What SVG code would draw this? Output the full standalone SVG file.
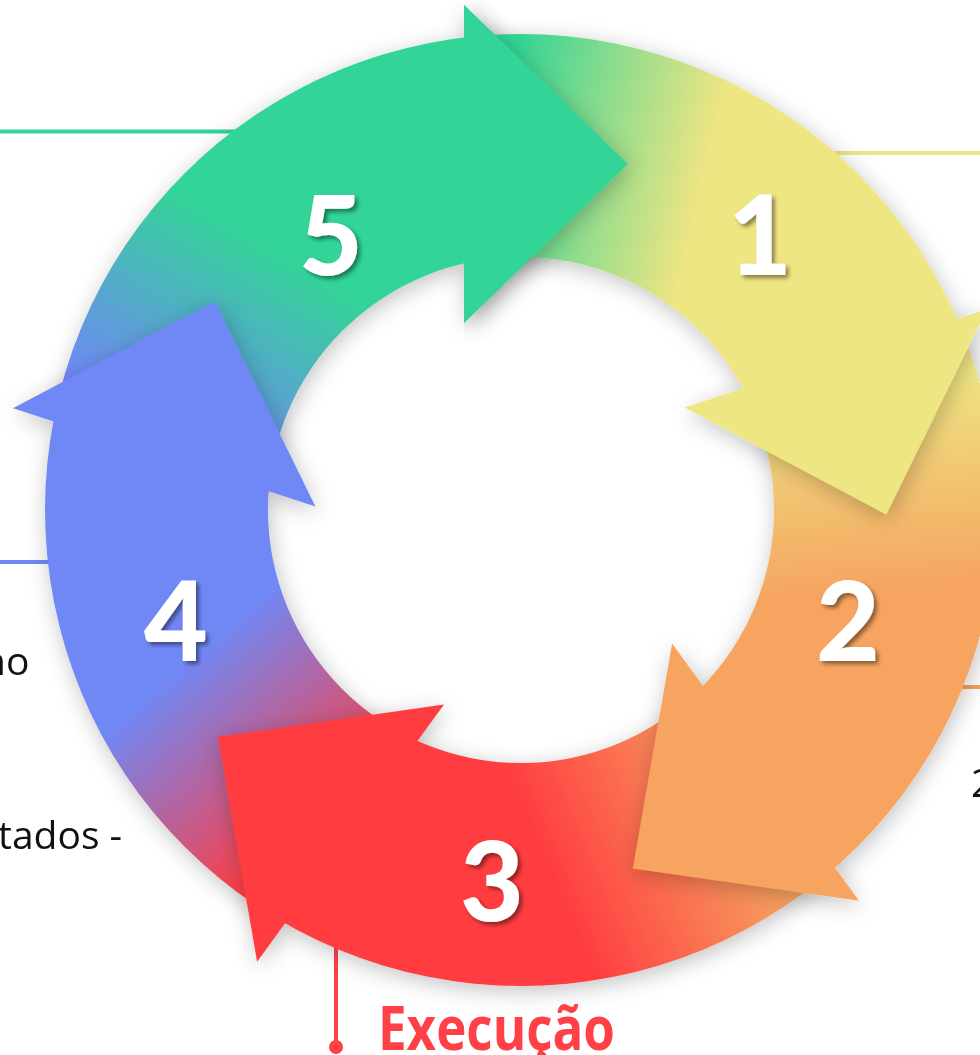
<svg xmlns="http://www.w3.org/2000/svg" width="980" height="1055" viewBox="0 0 980 1055">
<style>
.num{font-family:Lato,"Open Sans","Liberation Sans",sans-serif;font-weight:900;font-size:110px;fill:#fff;text-anchor:middle;filter:url(#tsh)}
.lbl{font-family:"Open Sans","Liberation Sans",sans-serif;font-size:39px;fill:#111}
.ln{stroke-width:4;fill:none}
.sh{filter:url(#sh)}
</style>
<defs>
<filter id="sh" x="-30%" y="-30%" width="160%" height="160%"><feDropShadow dx="2" dy="5" stdDeviation="11" flood-color="#000" flood-opacity="0.24"/></filter>
<filter id="tsh" x="-20%" y="-20%" width="150%" height="150%"><feDropShadow dx="3" dy="3" stdDeviation="2" flood-color="#000" flood-opacity="0.45"/></filter>
<path id="ring" d="M997,510 A476,476 0 1 0 45,510 A476,476 0 1 0 997,510 Z M774,510 A253,253 0 1 0 268,510 A253,253 0 1 0 774,510 Z" fill-rule="evenodd"/>
<clipPath id="c5" clipPathUnits="userSpaceOnUse"><polygon points="496,542 496,-333 -334,-333 -312,279"/></clipPath>
<clipPath id="c1" clipPathUnits="userSpaceOnUse"><polygon points="496,542 496,-333 -334,-333 -312,279" transform="rotate(72 516 517)"/></clipPath>
<clipPath id="c2" clipPathUnits="userSpaceOnUse"><polygon points="496,542 496,-333 -334,-333 -312,279" transform="rotate(144 516 517)"/></clipPath>
<clipPath id="c3" clipPathUnits="userSpaceOnUse"><polygon points="496,542 496,-333 -334,-333 -312,279" transform="rotate(216 516 517)"/></clipPath>
<clipPath id="c4" clipPathUnits="userSpaceOnUse"><polygon points="496,542 496,-333 -334,-333 -312,279" transform="rotate(288 516 517)"/></clipPath>
<clipPath id="hp5" clipPathUnits="userSpaceOnUse"><rect x="464" y="-60" width="320" height="470"/></clipPath>
<linearGradient id="g5" gradientUnits="userSpaceOnUse" x1="162" y1="429" x2="272" y2="246"><stop offset="0" stop-color="#7088F5"/><stop offset="1" stop-color="#33D497"/></linearGradient>
<linearGradient id="g1" gradientUnits="userSpaceOnUse" x1="162" y1="429" x2="272" y2="246" gradientTransform="rotate(72 516 517)"><stop offset="0" stop-color="#33D497"/><stop offset="1" stop-color="#EEE583"/></linearGradient>
<linearGradient id="g2" gradientUnits="userSpaceOnUse" x1="162" y1="429" x2="272" y2="246" gradientTransform="rotate(144 516 517)"><stop offset="0" stop-color="#EEE583"/><stop offset="1" stop-color="#F6A460"/></linearGradient>
<linearGradient id="g3" gradientUnits="userSpaceOnUse" x1="162" y1="429" x2="272" y2="246" gradientTransform="rotate(216 516 517)"><stop offset="0" stop-color="#F6A460"/><stop offset="1" stop-color="#FF3D41"/></linearGradient>
<linearGradient id="g4" gradientUnits="userSpaceOnUse" x1="162" y1="429" x2="272" y2="246" gradientTransform="rotate(288 516 517)"><stop offset="0" stop-color="#FF3D41"/><stop offset="1" stop-color="#7088F5"/></linearGradient>
</defs>
<rect width="980" height="1055" fill="#fff"/>
<g id="connectors">
<line class="ln" x1="0" y1="131.5" x2="260" y2="131.5" stroke="#33D497"/>
<line class="ln" x1="790" y1="153" x2="980" y2="153" stroke="#EEE583"/>
<line class="ln" x1="0" y1="562" x2="80" y2="562" stroke="#7088F5"/>
<line class="ln" x1="940" y1="687" x2="980" y2="687" stroke="#F6A460"/>
<line class="ln" x1="336" y1="930" x2="336" y2="1046" stroke="#FF4046"/>
<circle cx="336" cy="1047" r="7" fill="#FF4046"/>
</g>
<g id="node-5">
<g id="arrow-5" class="sh">
<use href="#ring" fill="url(#g5)" clip-path="url(#c5)"/>
<polygon points="464,5 628,164 464,323" fill="#33D497"/>
</g>
<text class="num" x="331" y="275">5</text>
</g>
<g id="node-4">
<g class="sh">
<use href="#ring" fill="url(#g4)" clip-path="url(#c4)"/>
<polygon points="464,5 628,164 464,323" fill="#7088F5" transform="rotate(288 516 517)"/>
</g>
<text class="num" x="176" y="661">4</text>
</g>
<g id="node-3">
<g class="sh">
<use href="#ring" fill="url(#g3)" clip-path="url(#c3)"/>
<polygon points="464,5 628,164 464,323" fill="#FF3D41" transform="rotate(216 516 517)"/>
</g>
<text class="num" x="492" y="921">3</text>
</g>
<g id="node-2">
<g class="sh">
<use href="#ring" fill="url(#g2)" clip-path="url(#c2)"/>
<polygon points="464,5 628,164 464,323" fill="#F6A460" transform="rotate(144 516 517)"/>
</g>
<text class="num" x="848" y="661">2</text>
</g>
<g id="node-1">
<g class="sh">
<use href="#ring" fill="url(#g1)" clip-path="url(#c1)"/>
<polygon points="464,5 628,164 464,323" fill="#EEE583" transform="rotate(72 516 517)"/>
</g>
<text class="num" x="760" y="275">1</text>
</g>
<g id="node-5-head-overlay" clip-path="url(#hp5)">
<use href="#arrow-5"/>
</g>
<g id="labels">
<text class="lbl" x="-18" y="675">no</text>
<text class="lbl" x="-2" y="849">tados -</text>
<text class="lbl" x="971" y="797">2</text>
<text x="378" y="1050" font-family="'Open Sans','Liberation Sans',sans-serif" font-weight="700" font-size="60" fill="#FF4046" textLength="237" lengthAdjust="spacingAndGlyphs">Execução</text>
</g>
</svg>
